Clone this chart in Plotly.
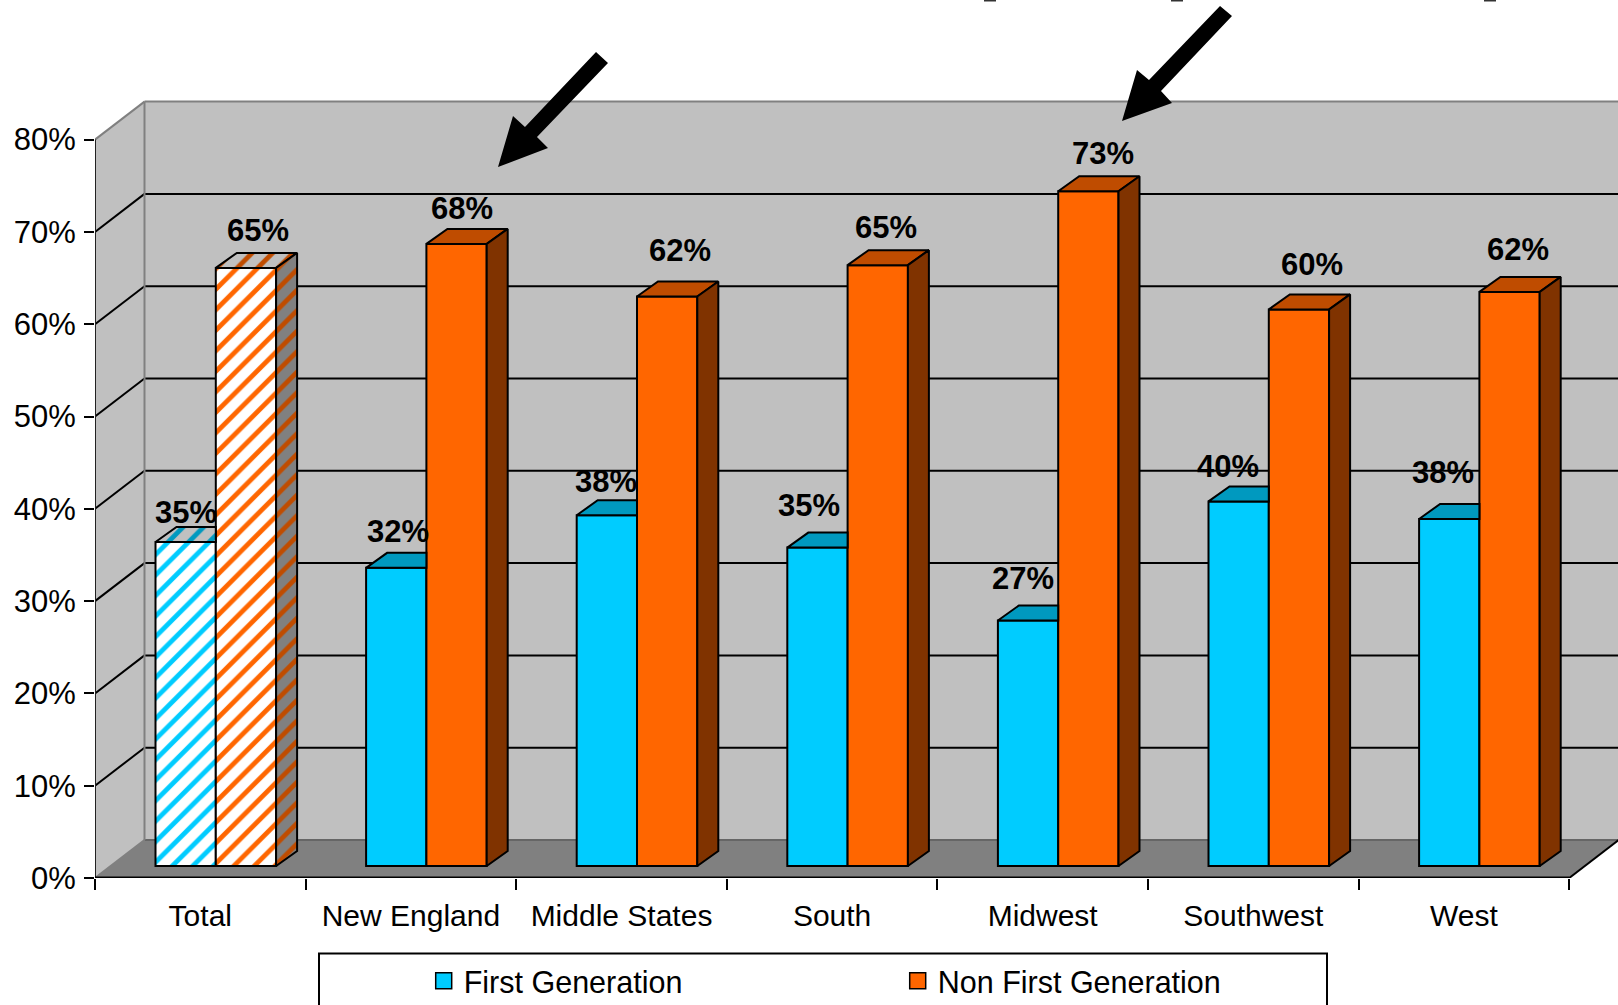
import plotly.graph_objects as go

# ---------- data ----------
categories = ["Total", "New England", "Middle States", "South", "Midwest", "Southwest", "West"]
first_gen = [35.1, 32.3, 38.0, 34.5, 26.6, 39.5, 37.6]
non_first_gen = [64.8, 67.4, 61.7, 65.1, 73.1, 60.3, 62.2]
first_labels = ["35%", "32%", "38%", "35%", "27%", "40%", "38%"]
non_first_labels = ["65%", "68%", "62%", "65%", "73%", "60%", "62%"]
y_ticks = [0, 10, 20, 30, 40, 50, 60, 70, 80]
series_names = ["First Generation", "Non First Generation"]

# ---------- styling / geometry ----------
W, H = 1618, 1005
X0, Y0 = 95, 878          # pixel position of the front-left-bottom corner
CAT_PX = 210.6            # pixels per category
UNIT_PX = 9.23            # pixels per percentage point
DEPTH_X = 49.5 / CAT_PX   # wall depth in axis units
DEPTH_Y = 38 / UNIT_PX
SHIFT_X = 15.5 / CAT_PX   # bar plane offset from front plane
SHIFT_Y = 12 / UNIT_PX
BAR_W = 60.3 / CAT_PX
BAR_DX = 21 / CAT_PX
BAR_DY = 15 / UNIT_PX
XMIN, XTOP = -0.5, 6.5
FONT = "Liberation Sans"
BLUE, BLUE_TOP = "#00CCFF", "#0099BF"
ORANGE, ORANGE_TOP, ORANGE_SIDE = "#FF6600", "#BF4C00", "#803300"
WALL, FLOOR = "#C0C0C0", "#808080"
EDGE = dict(color="black", width=2)

# label nudges (pixels) relative to the front-face centre and top
first_nudge = [(0, 30), (2, 36), (-1, 34), (-8, 42), (-5, 42), (-11, 35), (-6, 46)]
non_first_nudge = [(12, 37), (5, 35), (13, 46), (8, 38), (15, 38), (13, 45), (8, 42)]

fig = go.Figure()
idx = list(range(len(categories)))


def bar(xs, ys, name, color, offset, pattern=None, legend=False):
    marker = dict(color=color, line=EDGE)
    if pattern:
        marker["pattern"] = pattern
    fig.add_trace(go.Bar(x=xs, y=ys, base=SHIFT_Y, width=BAR_W, offset=offset, name=name,
                         marker=marker, showlegend=legend, hoverinfo="skip"))


def stripes(fg, bg):
    return dict(shape="/", fgcolor=fg, bgcolor=bg, size=14.5, solidity=0.33, fgopacity=1, fillmode="replace")


# front faces
off_first, off_non = SHIFT_X - BAR_W, SHIFT_X
bar(idx[:1], first_gen[:1], series_names[0], "white", off_first, stripes(BLUE, "white"))
bar(idx[:1], non_first_gen[:1], series_names[1], "white", off_non, stripes(ORANGE, "white"))
bar(idx[1:], first_gen[1:], series_names[0], BLUE, off_first)
bar(idx[1:], non_first_gen[1:], series_names[1], ORANGE, off_non)


def poly_trace(polys, fill, pattern=None):
    xs, ys = [], []
    for p in polys:
        xs += [q[0] for q in p] + [p[0][0], None]
        ys += [q[1] for q in p] + [p[0][1], None]
    kw = dict(fillpattern=pattern) if pattern else {}
    fig.add_trace(go.Scatter(x=xs, y=ys, mode="lines", fill="toself", fillcolor=fill, line=EDGE,
                             showlegend=False, hoverinfo="skip", **kw))


def top_first(i):
    # top of the blue bar, hidden to the right by the orange bar in front of it
    x0, x1 = i + off_first, i + off_first + BAR_W
    v = first_gen[i] + SHIFT_Y
    return [(x0, v), (x1, v), (x1, v + BAR_DY), (x0 + BAR_DX, v + BAR_DY)]


def top_non(i):
    x0, x1 = i + off_non, i + off_non + BAR_W
    v = non_first_gen[i] + SHIFT_Y
    return [(x0, v), (x1, v), (x1 + BAR_DX, v + BAR_DY), (x0 + BAR_DX, v + BAR_DY)]


def side_non(i):
    x1 = i + off_non + BAR_W
    v = non_first_gen[i] + SHIFT_Y
    return [(x1, SHIFT_Y), (x1, v), (x1 + BAR_DX, v + BAR_DY), (x1 + BAR_DX, SHIFT_Y + BAR_DY)]


poly_trace([top_first(i) for i in idx[1:]], BLUE_TOP)
poly_trace([top_non(i) for i in idx[1:]], ORANGE_TOP)
poly_trace([side_non(i) for i in idx[1:]], ORANGE_SIDE)
poly_trace([top_first(0)], WALL, stripes(BLUE_TOP, WALL))
poly_trace([top_non(0)], WALL, stripes(ORANGE_TOP, WALL))
poly_trace([side_non(0)], FLOOR, stripes(ORANGE_TOP, FLOOR))

# legend keys
for nm, col in zip(series_names, [BLUE, ORANGE]):
    fig.add_trace(go.Scatter(x=[None], y=[None], mode="markers", name=nm,
                             marker=dict(symbol="square", size=16, color=col,
                                         line=dict(color="black", width=1.5))))

# ---------- walls, floor and gridlines ----------
shapes = []
x_end = XTOP + 2 * DEPTH_X
top_val = y_ticks[-1]


def poly_path(pts):
    return "M" + "L".join(f"{a},{b}" for a, b in pts) + "Z"


def area(pts, fill):
    shapes.append(dict(type="path", path=poly_path(pts), xref="x", yref="y", fillcolor=fill,
                       line=dict(width=0), layer="below"))


def seg(x0, y0, x1, y1, color="black", width=2):
    shapes.append(dict(type="line", x0=x0, y0=y0, x1=x1, y1=y1, xref="x", yref="y",
                       line=dict(color=color, width=width), layer="below"))


bx, by = XMIN + DEPTH_X, DEPTH_Y
area([(bx, by), (x_end, by), (x_end, top_val + by), (bx, top_val + by)], WALL)
area([(XMIN, 0), (bx, by), (bx, top_val + by), (XMIN, top_val)], WALL)
area([(XMIN, 0), (XTOP, 0), (XTOP + DEPTH_X, by), (bx, by)], FLOOR)
for t in y_ticks[1:-1]:
    seg(XMIN, t, bx, t + by)
    seg(bx, t + by, x_end, t + by)
seg(bx, by, x_end, by, "#666666", 2)
seg(XMIN, 0, bx, by, "#808080")
seg(bx, by, bx, top_val + by, "#808080")
seg(XMIN, top_val, bx, top_val + by, "#808080", 2)
seg(bx, top_val + by, x_end, top_val + by, "#808080", 2)
seg(XTOP, 0, XTOP + DEPTH_X, by)
seg(XMIN, 0, XMIN, top_val, "#222222", 2)
seg(XMIN, 0, XTOP, 0, "black", 3)


# ---------- overlays in page pixels ----------
def page_path(pts):
    return "M" + "L".join(f"{a / W:.5f},{1 - b / H:.5f}" for a, b in pts) + "Z"


arrow_left = [(498, 167), (513, 116), (525, 127), (596, 52), (608, 63), (537, 137), (548, 148)]
arrow_right = [(1122, 121), (1137, 70), (1149, 80), (1220, 6), (1232, 16), (1161, 91), (1172, 103)]
for a in (arrow_left, arrow_right):
    shapes.append(dict(type="path", path=page_path(a), xref="paper", yref="paper",
                       fillcolor="black", line=dict(width=0)))
shapes.append(dict(type="rect", x0=319 / W, x1=1327 / W, y0=-0.02, y1=1 - 953.5 / H,
                   xref="paper", yref="paper", fillcolor="white", line=EDGE, layer="below"))
# the bottoms of the title's descenders, all that the crop leaves of the title
for cx in (990, 1177, 1490):
    shapes.append(dict(type="rect", x0=(cx - 6) / W, x1=(cx + 6) / W, y0=1 - 1.5 / H, y1=1.0,
                       xref="paper", yref="paper", fillcolor="#333333", line=dict(width=0)))

# ---------- data labels ----------
annotations = []
for i in idx:
    for vals, labels, nudge, off in ((first_gen, first_labels, first_nudge, off_first),
                                     (non_first_gen, non_first_labels, non_first_nudge, off_non)):
        annotations.append(dict(x=i + off + BAR_W / 2, y=vals[i] + SHIFT_Y, text=f"<b>{labels[i]}</b>",
                                showarrow=False, xanchor="center", yanchor="middle",
                                xshift=nudge[i][0], yshift=nudge[i][1],
                                font=dict(family=FONT, size=31, color="black")))

fig.update_layout(
    width=W, height=H,
    margin=dict(l=0, r=0, t=0, b=0, pad=0, autoexpand=False),
    paper_bgcolor="white", plot_bgcolor="rgba(0,0,0,0)",
    barmode="overlay",
    font=dict(family=FONT, size=30, color="black"),
    shapes=shapes, annotations=annotations,
    legend=dict(orientation="h", x=423.7 / W, y=1 - 954.5 / H, xanchor="left", yanchor="top",
                entrywidth=429, entrywidthmode="pixels", bgcolor="rgba(0,0,0,0)",
                font=dict(family=FONT, size=30.5), traceorder="normal"),
    xaxis=dict(domain=[X0 / W, 1], range=[XMIN, XMIN + (W - X0) / CAT_PX], type="linear",
               tickmode="array", tickvals=idx, ticktext=categories,
               ticks="outside", ticklen=11, tickcolor="rgba(0,0,0,0)",
               minor=dict(tickmode="array", tickvals=[i - 0.5 for i in range(len(categories) + 1)],
                          ticks="outside", ticklen=11, tickcolor="black", tickwidth=2, showgrid=False),
               showgrid=False, zeroline=False, showline=False, fixedrange=True),
    yaxis=dict(domain=[(H - Y0) / H, 1], range=[0, Y0 / UNIT_PX], type="linear",
               tickmode="array", tickvals=y_ticks, ticktext=[f"{t}%" for t in y_ticks],
               tickfont=dict(family=FONT, size=31),
               ticks="outside", ticklen=10, tickcolor="black", tickwidth=2, ticklabelstandoff=2,
               showgrid=False, zeroline=False, showline=False, fixedrange=True),
)
fig.write_html("out.html", config=dict(displayModeBar=False),
               post_script="document.body.style.margin='0';")
